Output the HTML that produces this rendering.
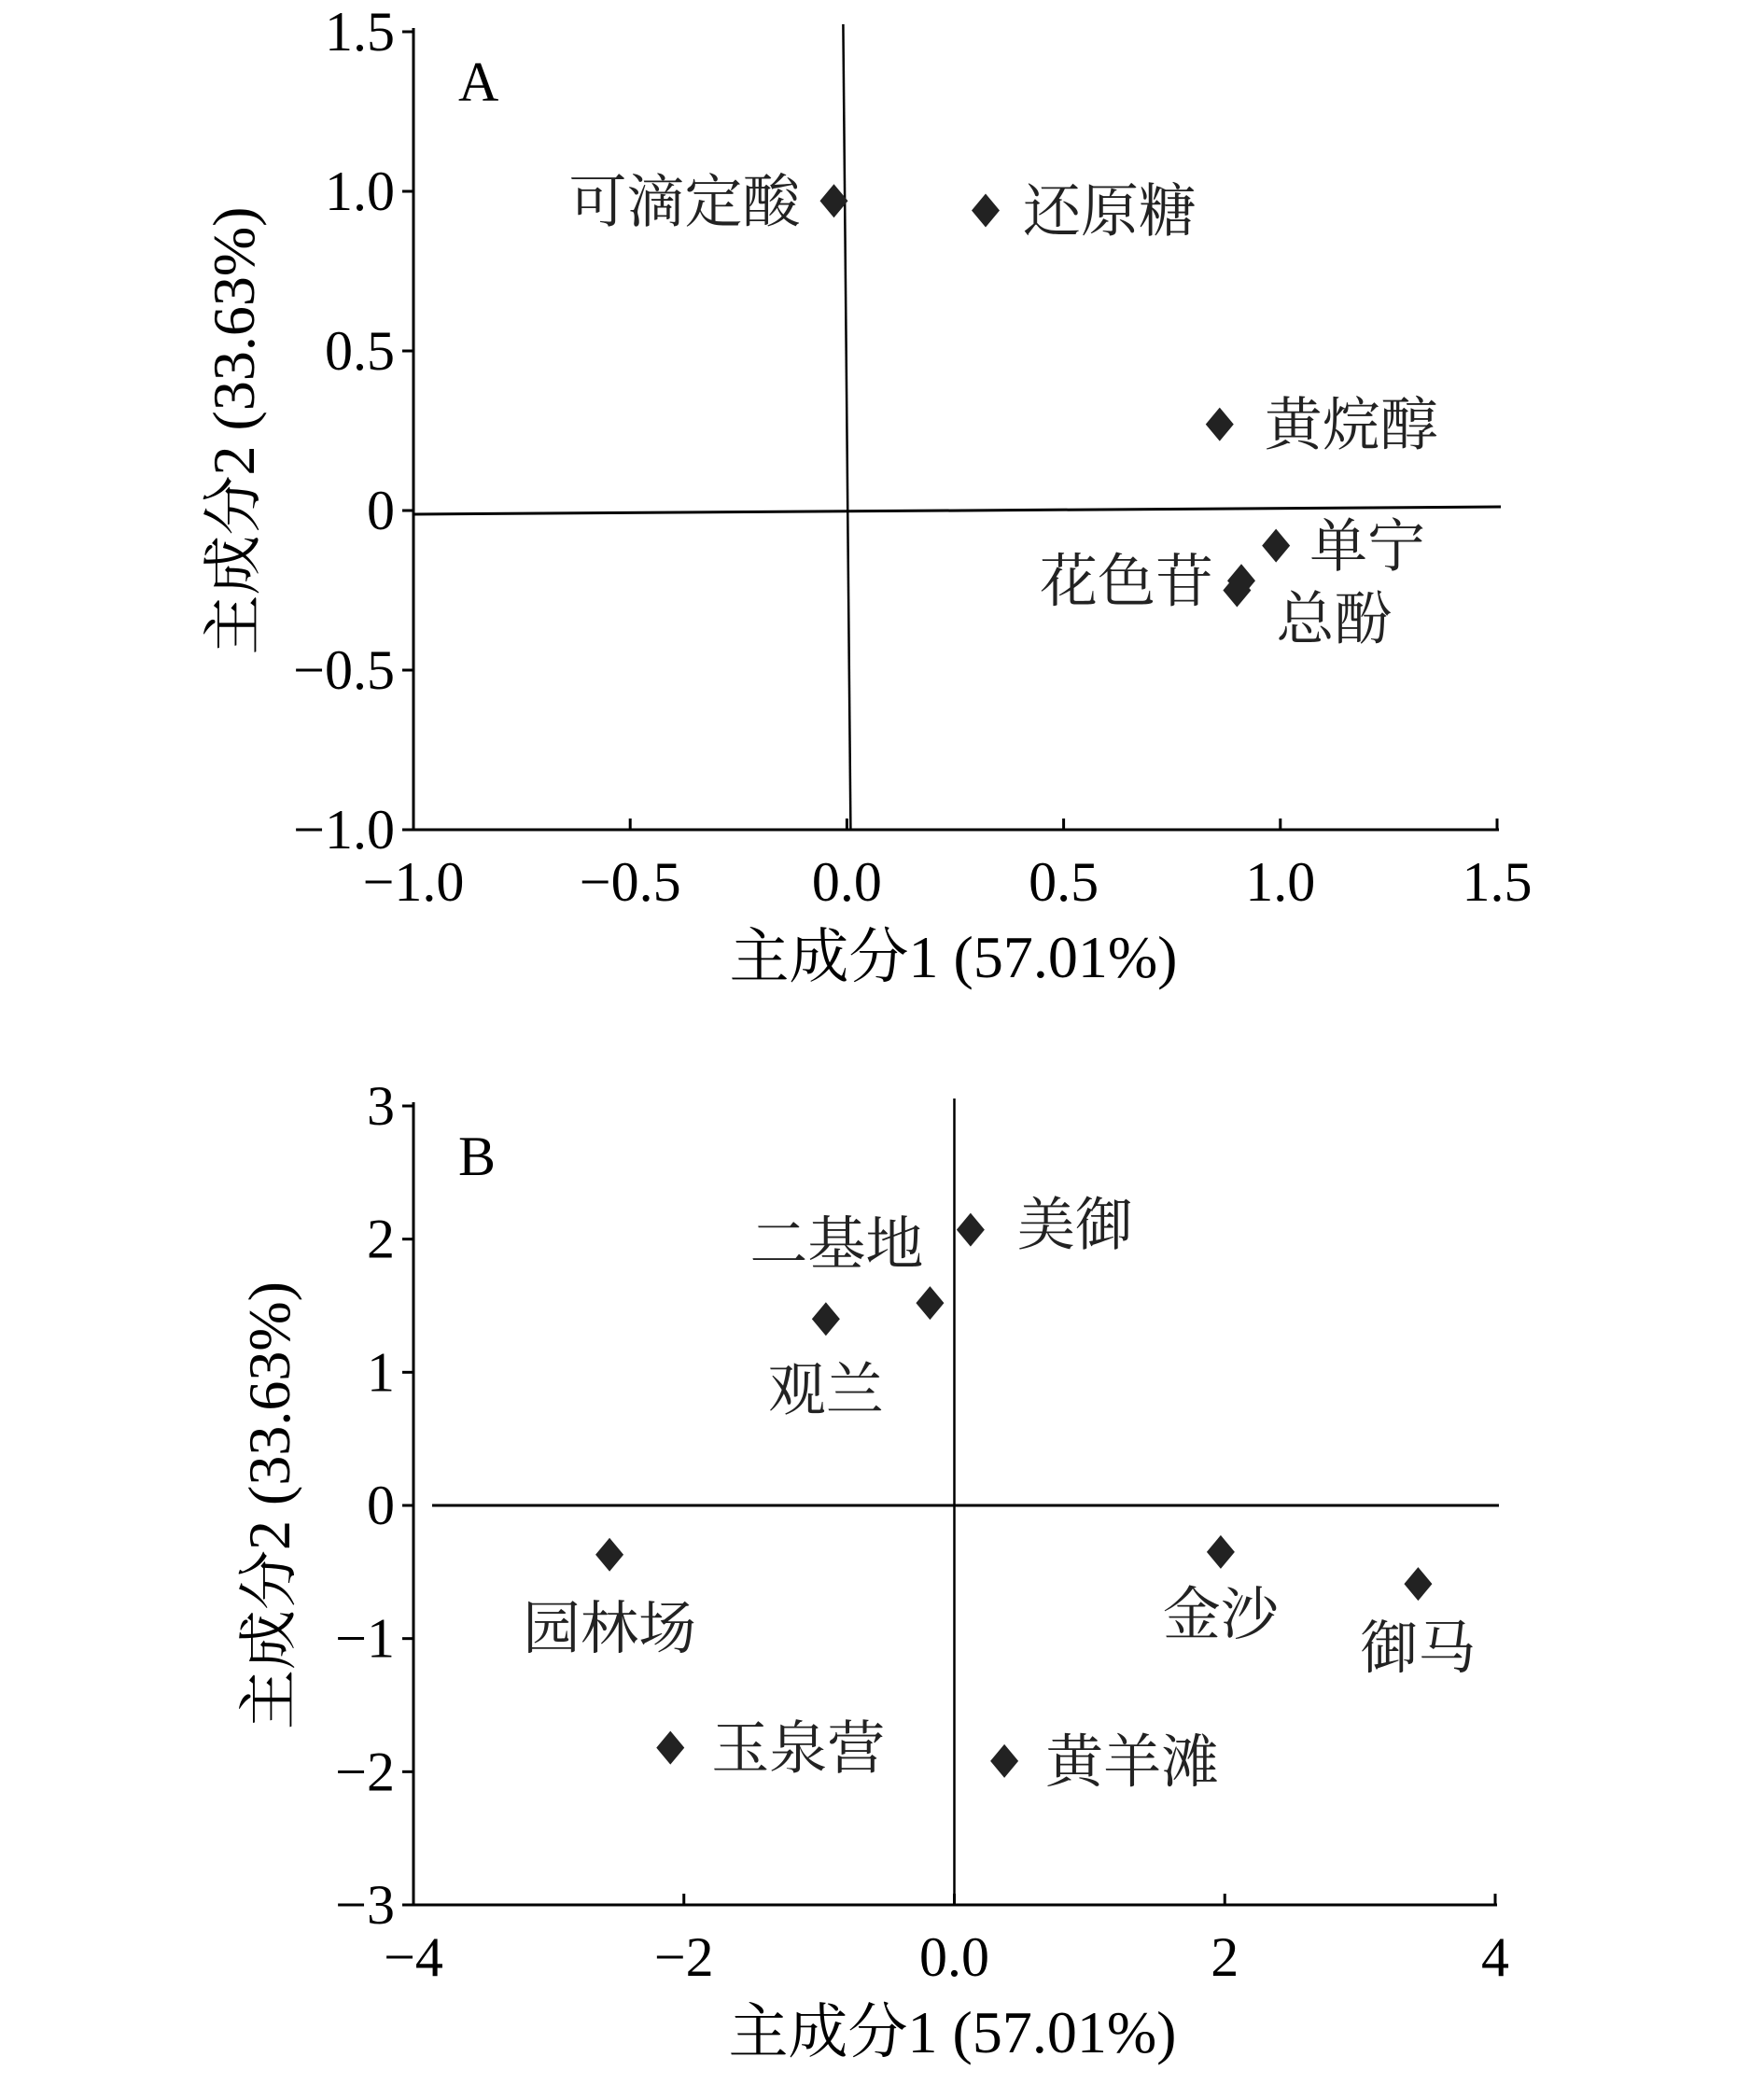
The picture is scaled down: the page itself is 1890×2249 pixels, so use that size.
<!DOCTYPE html>
<html><head><meta charset="utf-8"><style>
html,body{margin:0;padding:0;background:#fff;}
svg{display:block;font-family:"Liberation Serif","Noto Serif CJK SC",serif;}
.cjk{font-family:"Liberation Serif","Noto Serif CJK SC",serif;}
</style></head><body>
<svg id="fig" width="1890" height="2249" viewBox="0 0 1890 2249" xmlns="http://www.w3.org/2000/svg"></svg>
<script>
const aNames=["可滴定酸","还原糖","黄烷醇","单宁","花色苷","总酚"];
const aX=[-0.03,0.32,0.86,0.99,0.91,0.90];
const aY=[0.97,0.94,0.27,-0.11,-0.22,-0.25];
const aXTicks=[-1.0,-0.5,0.0,0.5,1.0,1.5];
const aYTicks=[1.5,1.0,0.5,0,-0.5,-1.0];
const aXTickLabels=["−1.0","−0.5","0.0","0.5","1.0","1.5"];
const aYTickLabels=["1.5","1.0","0.5","0","−0.5","−1.0"];
const bNames=["美御","二基地","观兰","园林场","玉泉营","黄羊滩","金沙","御马"];
const bX=[0.12,-0.18,-0.95,-2.55,-2.1,0.37,1.97,3.43];
const bY=[2.07,1.52,1.40,-0.37,-1.82,-1.92,-0.35,-0.59];
const bXTicks=[-4,-2,0,2,4];
const bYTicks=[3,2,1,0,-1,-2,-3];
const bXTickLabels=["−4","−2","0.0","2","4"];
const bYTickLabels=["3","2","1","0","−1","−2","−3"];

const NS="http://www.w3.org/2000/svg";
const svg=document.getElementById('fig');
function mk(tag,attrs,parent,text){const e=document.createElementNS(NS,tag);for(const k in attrs)e.setAttribute(k,attrs[k]);if(text!==undefined)e.textContent=text;(parent||svg).appendChild(e);return e;}

const aOff=[[-36,22,"end"],[40,22,"start"],[48,22,"start"],[36,22,"start"],[-30,22,"end"],[42,52,"start"]];
const bOff=[[50,16,"start"],[-100,-42,"middle"],[0,97,"middle"],[0,100,"middle"],[44,22,"start"],[44,22,"start"],[0,88,"middle"],[0,90,"middle"]];

function chart(id,cfg){
  const g=mk('g',{});
  
  
  const sx=v=>cfg.x0+(v-cfg.xmin)/(cfg.xmax-cfg.xmin)*(cfg.x1-cfg.x0);
  const sy=v=>cfg.y1-(v-cfg.ymin)/(cfg.ymax-cfg.ymin)*(cfg.y1-cfg.y0);
  const ax=mk('line',{x1:cfg.x0,y1:sy(cfg.ymax)-4,x2:cfg.x0,y2:cfg.y1,stroke:'#000','stroke-width':3},g);
  
  const bx=mk('line',{x1:cfg.x0,y1:cfg.y1,x2:cfg.x1+2,y2:cfg.y1,stroke:'#000','stroke-width':3},g);
  
  cfg.xt.forEach((v,i)=>{
    const t=mk('line',{x1:sx(v),y1:cfg.y1,x2:sx(v),y2:cfg.y1-12,stroke:'#000','stroke-width':3},g);
    
    const l=mk('text',{x:sx(v),y:cfg.y1+76,'font-size':60,'text-anchor':'middle'},g,cfg.xl[i]);
    
  });
  cfg.yt.forEach((v,i)=>{
    const t=mk('line',{x1:cfg.x0,y1:sy(v),x2:cfg.x0-12,y2:sy(v),stroke:'#000','stroke-width':3},g);
    
    const l=mk('text',{x:cfg.x0-20,y:sy(v)+20,'font-size':60,'text-anchor':'end'},g,cfg.yl[i]);
    
  });
  const zh=mk('line',{x1:cfg.x0+cfg.hx,y1:sy(0)+cfg.tilt,x2:cfg.x1+4,y2:sy(0)-cfg.tilt,stroke:'#000','stroke-width':3},g);
  
  const zv=mk('line',{x1:sx(0)-cfg.tilt,y1:sy(cfg.ymax)-8,x2:sx(0)+cfg.tilt,y2:cfg.y1,stroke:'#000','stroke-width':2.5},g);
  
  const pl=mk('text',{x:cfg.x0+48,y:sy(cfg.ymax)+74,'font-size':60},g,cfg.letter);
  
  const xt=mk('text',{x:(cfg.x0+cfg.x1)/2-2,y:cfg.y1+158,'font-size':64,'text-anchor':'middle','class':'cjk'},g,'主成分1 (57.01%)');
  
  const yc=(sy(cfg.ymax)+cfg.y1)/2;
  const yt=mk('text',{x:cfg.ytx,y:yc,'font-size':64,'text-anchor':'middle','class':'cjk',transform:`rotate(-90 ${cfg.ytx} ${yc})`},g,'主成分2 (33.63%)');
  
  cfg.xs.forEach((v,i)=>{
    const px=sx(v),py=sy(cfg.ys[i]);
    const d=mk('path',{d:`M${px} ${py-18} L${px+15} ${py} L${px} ${py+18} L${px-15} ${py} Z`,fill:'#222'},g);
    
    const o=cfg.off[i];
    const t=mk('text',{x:px+o[0],y:py+o[1],'font-size':62,'text-anchor':o[2],'class':'cjk',fill:'#222'},g,cfg.names[i]);
    
  });
}
chart('chart-a',{x0:443,x1:1604,y0:34,y1:889,xmin:-1,xmax:1.5,ymin:-1,ymax:1.5,xt:aXTicks,xl:aXTickLabels,yt:aYTicks,yl:aYTickLabels,xs:aX,ys:aY,names:aNames,off:aOff,letter:'A',ytx:272,tilt:4,hx:0});
chart('chart-b',{x0:443,x1:1602,y0:1185,y1:2041,xmin:-4,xmax:4,ymin:-3,ymax:3,xt:bXTicks,xl:bXTickLabels,yt:bYTicks,yl:bYTickLabels,xs:bX,ys:bY,names:bNames,off:bOff,letter:'B',ytx:310,tilt:0,hx:20});
</script>
</body></html>
